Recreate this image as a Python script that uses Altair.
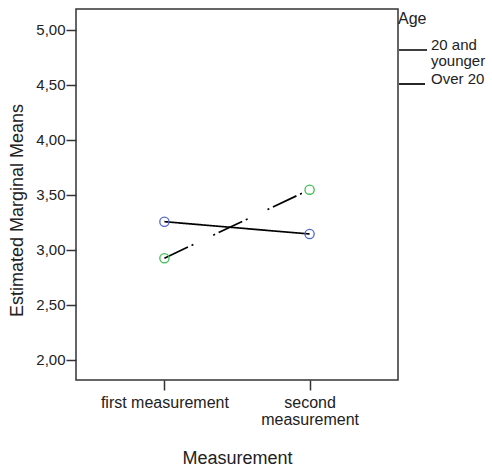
import altair as alt
import pandas as pd

measurements = ["first measurement", "second measurement"]
age_groups = ["20 and younger", "Over 20"]
means_young = [3.257, 3.145]
means_over = [2.925, 3.548]
marker_colors = ["#5168C8", "#3DBE4E"]
y_ticks = [2.0, 2.5, 3.0, 3.5, 4.0, 4.5, 5.0]

rows = []
for m, v in zip(measurements, means_young):
    rows.append({"Measurement": m, "Age": age_groups[0], "Mean": v})
for m, v in zip(measurements, means_over):
    rows.append({"Measurement": m, "Age": age_groups[1], "Mean": v})
df = pd.DataFrame(rows)

FONT = "Liberation Sans"
TXT = "#222222"

x_enc = alt.X(
    "Measurement:N",
    sort=measurements,
    scale=alt.Scale(type="point", padding=0.609),
    axis=alt.Axis(
        title="Measurement",
        labelExpr="datum.label == 'second measurement' ? ['second', 'measurement'] : datum.label",
        labelAngle=0,
        labelFont=FONT,
        labelFontSize=16,
        labelLineHeight=17,
        labelColor=TXT,
        labelPadding=4,
        tickSize=10,
        tickWidth=1.5,
        tickColor="#333333",
        domain=False,
        titleFont=FONT,
        titleFontSize=18,
        titleFontWeight="normal",
        titleColor=TXT,
        titlePadding=22,
    ),
)
y_enc = alt.Y(
    "Mean:Q",
    scale=alt.Scale(domain=[1.818, 5.19], nice=False, zero=False),
    axis=alt.Axis(
        title="Estimated Marginal Means",
        values=y_ticks,
        labelExpr="replace(format(datum.value, '.2f'), '.', ',')",
        labelFont=FONT,
        labelFontSize=15,
        labelColor=TXT,
        labelPadding=1,
        tickSize=10,
        tickWidth=1.5,
        tickColor="#333333",
        domain=False,
        grid=False,
        titleFont=FONT,
        titleFontSize=18,
        titleFontWeight="normal",
        titleColor=TXT,
        titleX=-68,
        titleY=201,
        titleBaseline="top",
        titleAlign="center",
        titleAngle=270,
    ),
)

lines = alt.Chart(df).mark_line(color="black", strokeWidth=1.7).encode(
    x=x_enc,
    y=y_enc,
    strokeDash=alt.StrokeDash(
        "Age:N",
        scale=alt.Scale(domain=age_groups, range=[[1, 0], [26, 4, 2, 22, 2, 4]]),
        legend=alt.Legend(
            title="Age",
            orient="none",
            legendX=322,
            legendY=2,
            padding=0,
            symbolType="stroke",
            symbolStrokeColor="black",
            symbolStrokeWidth=1.7,
            symbolSize=784,
            labelExpr="datum.label == '20 and younger' ? ['20 and', 'younger'] : datum.label",
            labelFont=FONT,
            labelFontSize=15,
            labelColor=TXT,
            labelOffset=3,
            labelBaseline="alphabetic",
            titleFont=FONT,
            titleFontSize=16,
            titleFontWeight="normal",
            titleColor=TXT,
            titlePadding=8,
            rowPadding=0,
        ),
    ),
)

point_layers = [
    alt.Chart(df)
    .transform_filter(alt.datum.Age == grp)
    .mark_point(filled=False, size=85, strokeWidth=1.3, opacity=1, color=col)
    .encode(x=x_enc, y=y_enc)
    for grp, col in zip(age_groups, marker_colors)
]

chart = (
    alt.layer(lines, *point_layers)
    .properties(
        width=322,
        height=371,
        autosize="none",
        padding={"left": 76, "top": 9, "right": 94, "bottom": 91},
    )
    .configure(background="white", style={"guide-label": {"lineHeight": 16}})
    .configure_view(stroke="#333333", strokeWidth=1.5)
)

chart.save("out.html", embed_options={"renderer": "svg", "actions": False})
